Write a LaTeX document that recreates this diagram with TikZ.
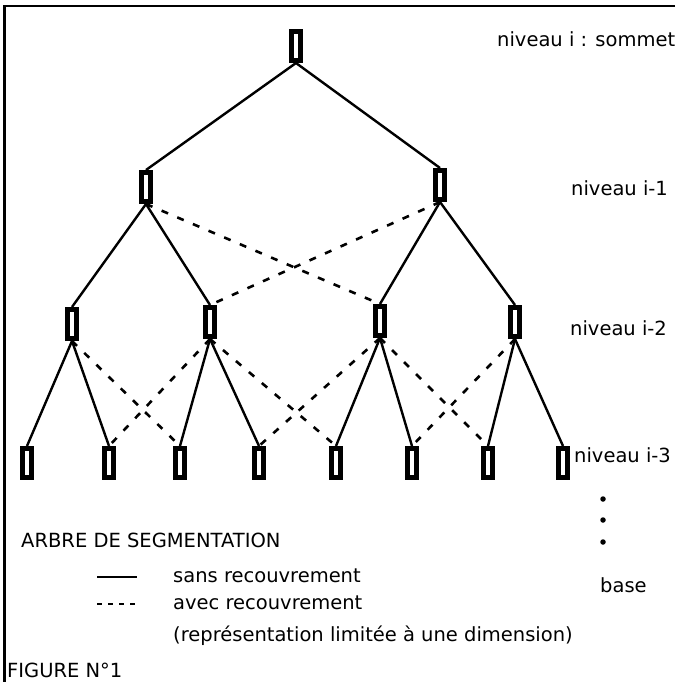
\documentclass[tikz,border=0pt]{standalone}
\usepackage{fontspec}
\setmainfont{DejaVu Sans}
\begin{document}
\begin{tikzpicture}[x=1pt,y=-1pt,
  seg/.style={draw=black,fill=white,line width=5pt,rectangle,minimum width=9pt,minimum height=29pt,inner sep=0pt,outer sep=2.5pt},
  sans/.style={draw=black,line width=2.4pt},
  avec/.style={draw=black,line width=2.6pt,dash pattern=on 7pt off 10pt},
  lbl/.style={anchor=base west,inner sep=0pt,font=\fontsize{19.5}{23}\selectfont},
  pt/.style={circle,fill=black,inner sep=0pt,minimum size=5.5pt}
]
\useasboundingbox (0,0) rectangle (675,682);
% frame
\coordinate (f1) at (3,6);
\coordinate (f2) at (675,6);
\coordinate (f3) at (4.5,682);
\draw[line width=2.2pt] (f2) -- (f1) -| (f3);
% nodes
\node[seg] (t) at (296,46) {};
\node[seg] (a1) at (146,187) {};
\node[seg] (a2) at (440,185) {};
\node[seg] (b1) at (72,324) {};
\node[seg] (b2) at (210,322) {};
\node[seg] (b3) at (380,321) {};
\node[seg] (b4) at (515,322) {};
\node[seg] (c1) at (27,463) {};
\node[seg] (c2) at (109,463) {};
\node[seg] (c3) at (180,463) {};
\node[seg] (c4) at (259,463) {};
\node[seg] (c5) at (336,463) {};
\node[seg] (c6) at (412,463) {};
\node[seg] (c7) at (488,463) {};
\node[seg] (c8) at (563,463) {};
% solid edges
\draw[sans] (t.south) -- (a1.north);
\draw[sans] (t.south) -- (a2.north);
\draw[sans] (a1.south) -- (b1.north);
\draw[sans] (a1.south) -- (b2.north);
\draw[sans] (a2.south) -- (b3.north);
\draw[sans] (a2.south) -- (b4.north);
\draw[sans] (b1.south) -- (c1.north);
\draw[sans] (b1.south) -- (c2.north);
\draw[sans] (b2.south) -- (c3.north);
\draw[sans] (b2.south) -- (c4.north);
\draw[sans] (b3.south) -- (c5.north);
\draw[sans] (b3.south) -- (c6.north);
\draw[sans] (b4.south) -- (c7.north);
\draw[sans] (b4.south) -- (c8.north);
% dashed edges
\draw[avec] (a1.south) -- (b3.north);
\draw[avec] (a2.south) -- (b2.north);
\draw[avec] (b1.south) -- (c3.north);
\draw[avec] (b2.south) -- (c2.north);
\draw[avec] (b2.south) -- (c5.north);
\draw[avec] (b3.south) -- (c4.north);
\draw[avec] (b3.south) -- (c7.north);
\draw[avec] (b4.south) -- (c6.north);
% level labels
\node[lbl] (l0) at (497,47) {niveau i : sommet};
\node[lbl] (l1) at (571,195) {niveau i-1};
\node[lbl] (l2) at (570,335) {niveau i-2};
\node[lbl] (l3) at (574,462) {niveau i-3};
\node[pt] (p1) at (603,499) {};
\node[pt] (p2) at (603,520) {};
\node[pt] (p3) at (603,542) {};
\node[lbl] (lb) at (600,592) {base};
% legend
\node[lbl] (title) at (21,547) {ARBRE DE SEGMENTATION};
\coordinate (s1) at (97,577);
\coordinate (s2) at (137,577);
\draw[sans] (s1) -- (s2);
\node[lbl] (ls) at (173,582) {sans recouvrement};
\coordinate (d1) at (97,604);
\coordinate (d2) at (135,604);
\draw[draw=black,line width=2.6pt,dash pattern=on 5pt off 6pt] (d1) -- (d2);
\node[lbl] (la) at (173,609) {avec recouvrement};
\node[lbl] (lr) at (173,641) {(représentation limitée à une dimension)};
\node[lbl] (fig) at (7,677) {FIGURE N°1};
\end{tikzpicture}
\end{document}
